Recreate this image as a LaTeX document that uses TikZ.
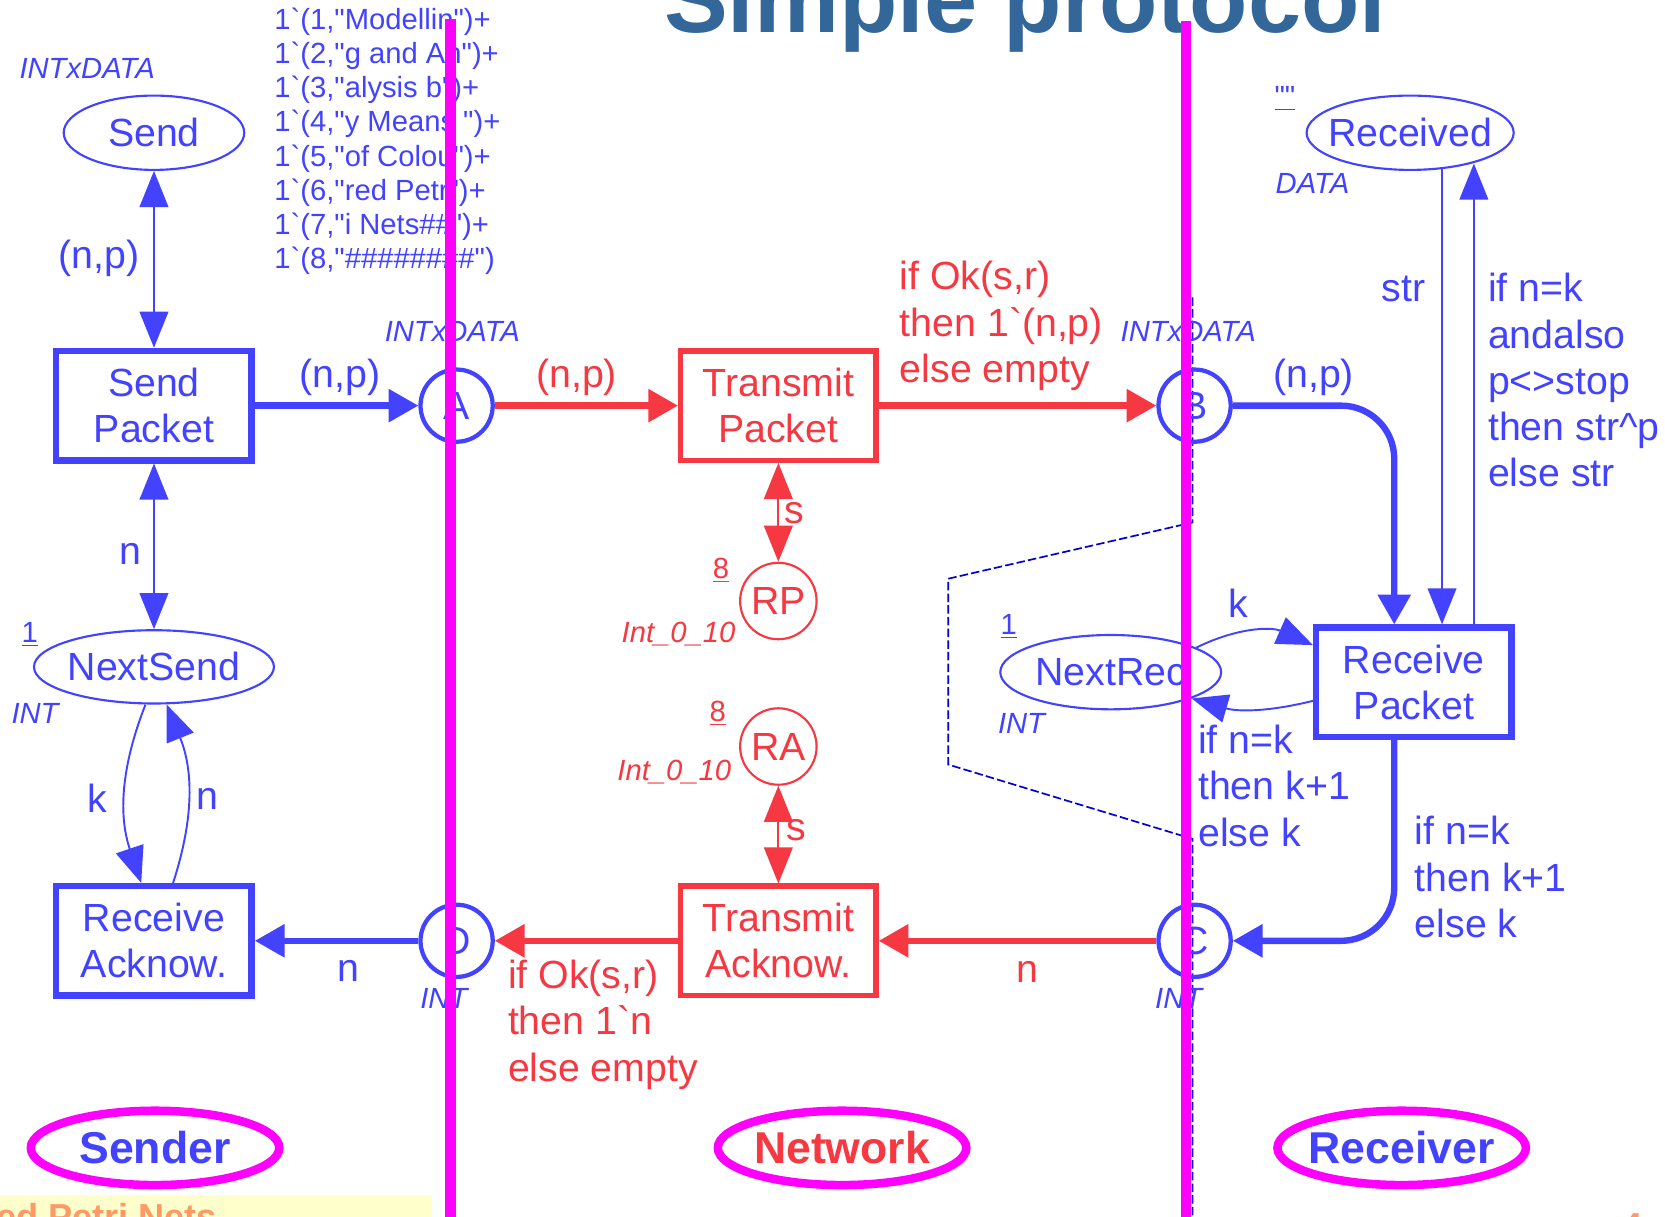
\documentclass[tikz,border=0pt]{standalone}
\usepackage{fontspec}
\newfontfamily\af{Liberation Sans}
\usetikzlibrary{arrows.meta,shapes.geometric,calc}
\definecolor{pnblue}{RGB}{66,66,255}
\definecolor{pnred}{RGB}{245,56,66}
\definecolor{dashblue}{RGB}{0,0,215}
\definecolor{titleblue}{RGB}{51,102,153}
\definecolor{pinkline}{RGB}{255,0,255}
\definecolor{orangetxt}{RGB}{255,153,102}
\definecolor{paleyellow}{RGB}{255,255,204}
\tikzset{
  maintxt/.style={font=\af\fontsize{18.5}{21.75}\selectfont},
  smalltxt/.style={font=\af\fontsize{13.75}{16}\selectfont\itshape},
  trans/.style={draw, rectangle, line width=3pt, minimum width=92pt, minimum height=51.5pt, inner sep=0pt, align=center, maintxt},
  place/.style={draw, circle, line width=2pt, minimum size=34pt, inner sep=0pt, maintxt},
  smallplace/.style={draw, circle, line width=1pt, minimum size=36pt, inner sep=0pt, maintxt},
  eplace/.style={draw, ellipse, line width=1pt, inner sep=0pt},
  thickarc/.style={line width=3pt, -{Triangle[length=14pt,width=15pt]}},
  thinarc/.style={line width=0.9pt, -{Triangle[length=17pt,width=13.5pt]}},
  boththin/.style={line width=0.9pt, {Triangle[length=17pt,width=13.5pt]}-{Triangle[length=17pt,width=13.5pt]}},
  lbl/.style={inner sep=0pt, maintxt},
  multi/.style={inner sep=0pt, maintxt, align=left, anchor=west},
  typ/.style={inner sep=0pt, smalltxt},
  initm/.style={inner sep=0pt, font=\af\fontsize{13.75}{16.05}\selectfont, align=left, anchor=west},
  sectionoval/.style={draw=pinkline, ellipse, line width=4pt, minimum width=117pt, minimum height=35pt, inner sep=0pt},
  sectiontxt/.style={font=\af\bfseries\fontsize{21}{25}\selectfont},
  divider/.style={draw=pinkline, line width=5pt},
  pagedash/.style={draw=dashblue, line width=0.8pt, dash pattern=on 4pt off 1.5pt},
}
\begin{document}
\begin{tikzpicture}[x=0.5pt,y=-0.5pt]
\useasboundingbox (0,0) rectangle (1568,1146);
\fill[white] (0,0) rectangle (1568,1146);

% title
\node[anchor=base west, inner sep=0pt, text=titleblue, font=\af\bfseries\fontsize{45}{54}\selectfont] (title) at (625,31) {Simple protocol};

% dashed page border
\draw[pagedash] (1123,280) -- (1123,492) -- (893,545) -- (893,720) -- (1123,790) -- (1123,1146);

% ---------- places and transitions ----------
\begin{scope}[pnblue]
\node[eplace, minimum width=85pt, minimum height=35pt, label={[maintxt, text=pnblue]center:Send}] (send) at (145,125) {};
\node[eplace, minimum width=113pt, minimum height=34.5pt, label={[maintxt, text=pnblue]center:NextSend}] (nextsend) at (145,628) {};
\node[eplace, minimum width=97.5pt, minimum height=35pt, label={[maintxt, text=pnblue]center:Received}] (received) at (1328,125) {};
\node[eplace, minimum width=104pt, minimum height=35pt, label={[maintxt, text=pnblue]center:NextRec}] (nextrec) at (1046,633) {};
\node[trans] (sendpkt) at (145,382) {Send\\Packet};
\node[trans] (recack) at (145,886) {Receive\\Acknow.};
\node[trans] (rpkt) at (1331.5,642.5) {Receive\\Packet};
\node[place] (A) at (430,382) {A};
\node[place] (B) at (1125,382) {B};
\node[place] (C) at (1125,886) {C};
\node[place] (D) at (430,886) {D};
\end{scope}
\begin{scope}[pnred]
\node[trans, line width=2.5pt] (tpkt) at (733,382) {Transmit\\Packet};
\node[trans, line width=2.5pt] (tack) at (733,886) {Transmit\\Acknow.};
\node[smallplace] (RP) at (733,566) {RP};
\node[smallplace] (RA) at (733,703) {RA};
\end{scope}

% ---------- type and marking inscriptions ----------
\begin{scope}[pnblue]
\node[typ, anchor=west] (tsend) at (18,64) {INTxDATA};
\node[initm] (isend) at (258,133) {1`(1,"Modellin")+\\1`(2,"g and An")+\\1`(3,"alysis b")+\\1`(4,"y Means ")+\\1`(5,"of Colou")+\\1`(6,"red Petr")+\\1`(7,"i Nets\#\#")+\\1`(8,"\#\#\#\#\#\#\#\#")};
\node[typ] (tA) at (426,312) {INTxDATA};
\node[typ] (tB) at (1119,312) {INTxDATA};
\node[typ] (tC) at (1110,940) {INT};
\node[typ] (tD) at (418,940) {INT};
\node[typ] (tns) at (33,672) {INT};
\node[typ, font=\af\fontsize{13.75}{16}\selectfont] (ins) at (28,598) {\underline{1}};
\node[typ] (tnr) at (962,681) {INT};
\node[typ, font=\af\fontsize{13.75}{16}\selectfont] (inr) at (950,590) {\underline{1}};
\node[typ] (trec) at (1236,173) {DATA};
\node[typ, font=\af\fontsize{13.75}{16}\selectfont] (irec) at (1210,93) {\underline{""}};
\end{scope}
\begin{scope}[pnred]
\node[typ, font=\af\fontsize{13.75}{16}\selectfont] (irp) at (679,537) {\underline{8}};
\node[typ, text=pnred] (trp) at (639,597) {Int\_0\_10};
\node[typ, font=\af\fontsize{13.75}{16}\selectfont] (ira) at (676,672) {\underline{8}};
\node[typ, text=pnred] (tra) at (635,727) {Int\_0\_10};
\end{scope}

% ---------- arcs ----------
\begin{scope}[pnblue]
\draw[boththin] (send) -- (sendpkt);
\draw[boththin] (sendpkt) -- (nextsend);
\draw[thickarc] (sendpkt) -- (A);
\coordinate (bc) at (1313,382);
\draw[thickarc, rounded corners=25pt] (B) -- (bc) -- (bc |- rpkt.north);
\coordinate (cc) at (1313,886);
\draw[thickarc, rounded corners=25pt] (rpkt.south -| cc) -- (cc) -- (C);
\draw[thickarc] (D) -- (recack);
\coordinate (sx) at (1358,0);
\coordinate (rx) at (1388,0);
\draw[thinarc] ($(received.south -| sx)+(0,-2)$) -- (rpkt.north -| sx);
\draw[thinarc] (rpkt.north -| rx) -- ($(received.south -| rx)+(0,-7)$);
\draw[thinarc] ([xshift=-4pt]nextsend.south) to[bend right=20] ([xshift=-6pt]recack.north);
\draw[thinarc] ([xshift=9pt]recack.north) to[bend right=20] ([xshift=6pt]nextsend.south);
\draw[thinarc] (nextrec.16) to[bend left=25] ([yshift=17.5pt]rpkt.west);
\draw[thinarc] ([yshift=-8.75pt]rpkt.west) to[bend left=15] (nextrec.-18);
\end{scope}
\begin{scope}[pnred]
\draw[thickarc] (A) -- (tpkt);
\draw[thickarc] (tpkt) -- (B);
\draw[thickarc] (C) -- (tack);
\draw[thickarc] (tack) -- (D);
\draw[boththin] (tpkt) -- (RP);
\draw[boththin] (RA) -- (tack);
\end{scope}

% ---------- arc inscriptions ----------
\begin{scope}[pnblue]
\node[lbl, text=pnblue] (l1) at (93,243) {(n,p)};
\node[lbl, text=pnblue] (l2) at (320,355) {(n,p)};
\node[lbl, text=pnblue] (l3) at (123,522) {n};
\node[lbl, text=pnblue] (l4) at (92,752) {k};
\node[lbl, text=pnblue] (l5) at (195,752) {n};
\node[lbl, text=pnblue] (l6) at (328,914) {n};
\node[lbl, text=pnblue] (l7) at (1237,355) {(n,p)};
\node[lbl, text=pnblue] (l8) at (1322,272) {str};
\node[multi, text=pnblue] (l9) at (1401,358) {if n=k\\andalso\\p<>stop\\then str\textasciicircum p\\else str};
\node[lbl, text=pnblue] (l10) at (1166,568) {k};
\node[multi, text=pnblue] (l11) at (1128,740) {if n=k\\then k+1\\else k};
\node[multi, text=pnblue] (l12) at (1332,826) {if n=k\\then k+1\\else k};
\end{scope}
\begin{scope}[pnred]
\node[lbl, text=pnred] (l13) at (543,355) {(n,p)};
\node[multi, text=pnred] (l14) at (847,307) {if Ok(s,r)\\then 1`(n,p)\\else empty};
\node[lbl, text=pnred] (l15) at (748,483) {s};
\node[lbl, text=pnred] (l16) at (750,782) {s};
\node[lbl, text=pnred] (l17) at (968,915) {n};
\node[multi, text=pnred] (l18) at (478,965) {if Ok(s,r)\\then 1`n\\else empty};
\end{scope}

% ---------- footer ----------
\fill[paleyellow] (0,1125) rectangle (407,1160);
\node[anchor=base west, inner sep=0pt, text=orangetxt, font=\af\bfseries\fontsize{17}{20}\selectfont] (footer) at (-4,1157.6) {ed Petri Nets};
\node[anchor=base west, inner sep=0pt, text=orangetxt, font=\af\bfseries\fontsize{17}{20}\selectfont] (pagenum) at (1528,1166) {4};

% ---------- section dividers ----------
\draw[divider] (424,18) -- (424,1146);
\draw[divider] (1117,20) -- (1117,1146);

\node[sectionoval, label={[sectiontxt, text=pnblue]center:Sender}] (sender) at (146,1081) {};
\node[sectionoval, label={[sectiontxt, text=pnred]center:Network}] (network) at (793,1081) {};
\node[sectionoval, label={[sectiontxt, text=pnblue]center:Receiver}] (receiver) at (1320,1081) {};
\end{tikzpicture}
\end{document}
